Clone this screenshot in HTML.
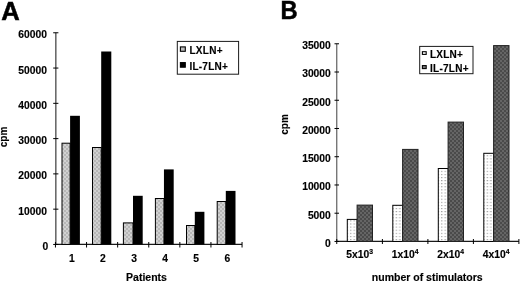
<!DOCTYPE html>
<html><head><meta charset="utf-8"><title>Figure</title>
<style>
html,body{margin:0;padding:0;background:#fff;}
body{width:520px;height:282px;overflow:hidden;font-family:"Liberation Sans",sans-serif;}
svg{display:block;filter:grayscale(1) blur(0.35px);}
svg text{stroke:#000;stroke-width:0.15px;}
</style></head><body>
<svg width="520" height="282" viewBox="0 0 520 282">
<defs>
<pattern id="pg" width="4" height="4" patternUnits="userSpaceOnUse">
<rect width="4" height="4" fill="#b6b6b6"/>
<rect x="0" y="0" width="2" height="2" fill="#cfcfcf"/>
<rect x="2" y="2" width="2" height="2" fill="#cfcfcf"/>
<rect x="0.5" y="0.5" width="1" height="1" fill="#d8d8d8"/>
<rect x="2.5" y="2.5" width="1" height="1" fill="#d8d8d8"/>
</pattern>
<pattern id="pw0" x="350.2" y="0.3" width="7" height="3.1" patternUnits="userSpaceOnUse"><rect width="7" height="3.1" fill="#fff"/><rect x="0" y="0" width="1.2" height="1" fill="#8a8a8a"/><rect x="3.5" y="0" width="1.2" height="1" fill="#8a8a8a"/></pattern>
<pattern id="pw1" x="395.7" y="0.3" width="7" height="3.1" patternUnits="userSpaceOnUse"><rect width="7" height="3.1" fill="#fff"/><rect x="0" y="0" width="1.2" height="1" fill="#8a8a8a"/><rect x="3.5" y="0" width="1.2" height="1" fill="#8a8a8a"/></pattern>
<pattern id="pw2" x="441.2" y="0.3" width="7" height="3.1" patternUnits="userSpaceOnUse"><rect width="7" height="3.1" fill="#fff"/><rect x="0" y="0" width="1.2" height="1" fill="#8a8a8a"/><rect x="3.5" y="0" width="1.2" height="1" fill="#8a8a8a"/></pattern>
<pattern id="pw3" x="486.7" y="0.3" width="7" height="3.1" patternUnits="userSpaceOnUse"><rect width="7" height="3.1" fill="#fff"/><rect x="0" y="0" width="1.2" height="1" fill="#8a8a8a"/><rect x="3.5" y="0" width="1.2" height="1" fill="#8a8a8a"/></pattern>
<pattern id="pd" width="4" height="4" patternUnits="userSpaceOnUse">
<rect width="4" height="4" fill="#4a4a4a"/>
<rect x="0" y="0" width="2" height="2" fill="#626262"/>
<rect x="2" y="2" width="2" height="2" fill="#626262"/>
<rect x="0.5" y="0.5" width="1" height="1" fill="#6c6c6c"/>
<rect x="2.5" y="2.5" width="1" height="1" fill="#6c6c6c"/>
</pattern>
</defs>
<rect width="520" height="282" fill="#fff"/>
<text x="1.3" y="19.5" font-family="Liberation Sans, sans-serif" font-weight="bold" font-size="25.6" style="stroke-width:0.5px">A</text>
<text transform="translate(280.6,18.9) scale(0.95,1)" font-family="Liberation Sans, sans-serif" font-weight="bold" font-size="25" style="stroke-width:0.5px">B</text>
<g stroke="#000" stroke-width="1" fill="none">
<line x1="55.85" y1="32.77" x2="55.85" y2="244.45" stroke="#3a3a3a" stroke-width="1.2"/>
<line x1="55.85" y1="244.45" x2="242.05" y2="244.45" stroke="#1a1a1a" stroke-width="1.2"/>
<line x1="53.2" y1="244.45" x2="58.4" y2="244.45"/>
<line x1="53.2" y1="209.17" x2="58.4" y2="209.17"/>
<line x1="53.2" y1="173.89" x2="58.4" y2="173.89"/>
<line x1="53.2" y1="138.61" x2="58.4" y2="138.61"/>
<line x1="53.2" y1="103.33" x2="58.4" y2="103.33"/>
<line x1="53.2" y1="68.05" x2="58.4" y2="68.05"/>
<line x1="53.2" y1="32.77" x2="58.4" y2="32.77"/>
<line x1="55.45" y1="242" x2="55.45" y2="247.5"/>
<line x1="86.55" y1="242" x2="86.55" y2="247.5"/>
<line x1="117.65" y1="242" x2="117.65" y2="247.5"/>
<line x1="148.75" y1="242" x2="148.75" y2="247.5"/>
<line x1="179.85" y1="242" x2="179.85" y2="247.5"/>
<line x1="210.95" y1="242" x2="210.95" y2="247.5"/>
<line x1="242.05" y1="242" x2="242.05" y2="247.5"/>
</g>
<text x="48.3" y="250.05" font-family="Liberation Sans, sans-serif" font-weight="bold" font-size="10.3" text-anchor="end">0</text>
<text x="47.0" y="214.77" font-family="Liberation Sans, sans-serif" font-weight="bold" font-size="10.3" text-anchor="end">10000</text>
<text x="47.0" y="179.49" font-family="Liberation Sans, sans-serif" font-weight="bold" font-size="10.3" text-anchor="end">20000</text>
<text x="47.0" y="144.21" font-family="Liberation Sans, sans-serif" font-weight="bold" font-size="10.3" text-anchor="end">30000</text>
<text x="47.0" y="108.93" font-family="Liberation Sans, sans-serif" font-weight="bold" font-size="10.3" text-anchor="end">40000</text>
<text x="47.0" y="73.65" font-family="Liberation Sans, sans-serif" font-weight="bold" font-size="10.3" text-anchor="end">50000</text>
<text x="47.0" y="38.37" font-family="Liberation Sans, sans-serif" font-weight="bold" font-size="10.3" text-anchor="end">60000</text>
<rect x="62" y="143.2" width="8.1" height="101.25" fill="url(#pg)" stroke="#000" stroke-width="1"/>
<rect x="70.1" y="115.8" width="9.8" height="128.65" fill="#000"/>
<text x="71.8" y="261.9" font-family="Liberation Sans, sans-serif" font-weight="bold" font-size="10.3" text-anchor="middle">1</text>
<rect x="92.5" y="147.5" width="8.7" height="96.95" fill="url(#pg)" stroke="#000" stroke-width="1"/>
<rect x="101.2" y="51.5" width="10.1" height="192.95" fill="#000"/>
<text x="102.9" y="261.9" font-family="Liberation Sans, sans-serif" font-weight="bold" font-size="10.3" text-anchor="middle">2</text>
<rect x="123.4" y="222.9" width="9.6" height="21.55" fill="url(#pg)" stroke="#000" stroke-width="1"/>
<rect x="133" y="195.8" width="9.7" height="48.65" fill="#000"/>
<text x="134" y="261.9" font-family="Liberation Sans, sans-serif" font-weight="bold" font-size="10.3" text-anchor="middle">3</text>
<rect x="155.4" y="198.5" width="8.55" height="45.95" fill="url(#pg)" stroke="#000" stroke-width="1"/>
<rect x="163.95" y="169.4" width="9.75" height="75.05" fill="#000"/>
<text x="165.1" y="261.9" font-family="Liberation Sans, sans-serif" font-weight="bold" font-size="10.3" text-anchor="middle">4</text>
<rect x="186.5" y="225.5" width="8.3" height="18.95" fill="url(#pg)" stroke="#000" stroke-width="1"/>
<rect x="194.8" y="211.8" width="9.6" height="32.65" fill="#000"/>
<text x="196.2" y="261.9" font-family="Liberation Sans, sans-serif" font-weight="bold" font-size="10.3" text-anchor="middle">5</text>
<rect x="217.2" y="201.5" width="8.6" height="42.95" fill="url(#pg)" stroke="#000" stroke-width="1"/>
<rect x="225.8" y="190.9" width="9.7" height="53.55" fill="#000"/>
<text x="227.3" y="261.9" font-family="Liberation Sans, sans-serif" font-weight="bold" font-size="10.3" text-anchor="middle">6</text>
<text x="146.5" y="280.7" font-family="Liberation Sans, sans-serif" font-weight="bold" font-size="10.5" text-anchor="middle">Patients</text>
<text transform="translate(6.6,137) rotate(-90)" font-family="Liberation Sans, sans-serif" font-weight="bold" font-size="10" text-anchor="middle">cpm</text>
<rect x="177.3" y="41.4" width="61.3" height="32.8" fill="#fff" stroke="#1a1a1a" stroke-width="1"/>
<rect x="180.4" y="46.9" width="4.9" height="4.4" fill="#bbb" stroke="#000" stroke-width="1.1"/>
<rect x="180.4" y="62.6" width="4.9" height="4.6" fill="#000" stroke="#000" stroke-width="1.1"/>
<text x="189.4" y="54.0" font-family="Liberation Sans, sans-serif" font-weight="bold" font-size="10" letter-spacing="0.3">LXLN+</text>
<text x="189.4" y="69.9" font-family="Liberation Sans, sans-serif" font-weight="bold" font-size="10" letter-spacing="0.25">IL-7LN+</text>
<g stroke="#000" stroke-width="1" fill="none">
<line x1="336.75" y1="43.77" x2="336.75" y2="241.45" stroke="#606060" stroke-width="1.2"/>
<line x1="336.75" y1="241.45" x2="518.9" y2="241.45" stroke="#1a1a1a" stroke-width="1.2"/>
<line x1="334.5" y1="241.45" x2="339" y2="241.45"/>
<line x1="334.5" y1="213.21" x2="339" y2="213.21"/>
<line x1="334.5" y1="184.97" x2="339" y2="184.97"/>
<line x1="334.5" y1="156.73" x2="339" y2="156.73"/>
<line x1="334.5" y1="128.49" x2="339" y2="128.49"/>
<line x1="334.5" y1="100.25" x2="339" y2="100.25"/>
<line x1="334.5" y1="72.01" x2="339" y2="72.01"/>
<line x1="334.5" y1="43.77" x2="339" y2="43.77"/>
<line x1="336.75" y1="239" x2="336.75" y2="244"/>
<line x1="382.4" y1="239" x2="382.4" y2="244"/>
<line x1="427.9" y1="239" x2="427.9" y2="244"/>
<line x1="473.4" y1="239" x2="473.4" y2="244"/>
<line x1="518.9" y1="239" x2="518.9" y2="244"/>
</g>
<text x="330.8" y="246.75" font-family="Liberation Sans, sans-serif" font-weight="bold" font-size="10.3" text-anchor="end">0</text>
<text x="330.8" y="218.51" font-family="Liberation Sans, sans-serif" font-weight="bold" font-size="10.3" text-anchor="end">5000</text>
<text x="330.8" y="190.27" font-family="Liberation Sans, sans-serif" font-weight="bold" font-size="10.3" text-anchor="end">10000</text>
<text x="330.8" y="162.03" font-family="Liberation Sans, sans-serif" font-weight="bold" font-size="10.3" text-anchor="end">15000</text>
<text x="330.8" y="133.79" font-family="Liberation Sans, sans-serif" font-weight="bold" font-size="10.3" text-anchor="end">20000</text>
<text x="330.8" y="105.55" font-family="Liberation Sans, sans-serif" font-weight="bold" font-size="10.3" text-anchor="end">25000</text>
<text x="330.8" y="77.31" font-family="Liberation Sans, sans-serif" font-weight="bold" font-size="10.3" text-anchor="end">30000</text>
<text x="330.8" y="49.07" font-family="Liberation Sans, sans-serif" font-weight="bold" font-size="10.3" text-anchor="end">35000</text>
<rect x="347.3" y="219.4" width="9.8" height="22.05" fill="url(#pw0)" stroke="#000" stroke-width="1"/>
<rect x="357.1" y="205.1" width="15.4" height="36.35" fill="url(#pd)" stroke="#222" stroke-width="1"/>
<text x="359.65" y="257.5" font-family="Liberation Sans, sans-serif" font-weight="bold" font-size="10.3" text-anchor="middle">5x10<tspan font-size="6.8" dy="-3.6">3</tspan></text>
<rect x="392.8" y="205.3" width="9.8" height="36.15" fill="url(#pw1)" stroke="#000" stroke-width="1"/>
<rect x="402.6" y="149.4" width="15.4" height="92.05" fill="url(#pd)" stroke="#222" stroke-width="1"/>
<text x="405.15" y="257.5" font-family="Liberation Sans, sans-serif" font-weight="bold" font-size="10.3" text-anchor="middle">1x10<tspan font-size="6.8" dy="-3.6">4</tspan></text>
<rect x="438.3" y="168.5" width="9.8" height="72.95" fill="url(#pw2)" stroke="#000" stroke-width="1"/>
<rect x="448.1" y="122.1" width="15.4" height="119.35" fill="url(#pd)" stroke="#222" stroke-width="1"/>
<text x="450.65" y="257.5" font-family="Liberation Sans, sans-serif" font-weight="bold" font-size="10.3" text-anchor="middle">2x10<tspan font-size="6.8" dy="-3.6">4</tspan></text>
<rect x="483.8" y="153.3" width="9.8" height="88.15" fill="url(#pw3)" stroke="#000" stroke-width="1"/>
<rect x="493.6" y="45.6" width="15.4" height="195.85" fill="url(#pd)" stroke="#222" stroke-width="1"/>
<text x="496.15" y="257.5" font-family="Liberation Sans, sans-serif" font-weight="bold" font-size="10.3" text-anchor="middle">4x10<tspan font-size="6.8" dy="-3.6">4</tspan></text>
<text x="427.3" y="280.9" font-family="Liberation Sans, sans-serif" font-weight="bold" font-size="10.5" text-anchor="middle">number of stimulators</text>
<text transform="translate(287.6,124.5) rotate(-90)" font-family="Liberation Sans, sans-serif" font-weight="bold" font-size="10" text-anchor="middle">cpm</text>
<rect x="419.7" y="46.4" width="53.3" height="27.3" fill="#fff" stroke="#1a1a1a" stroke-width="1"/>
<rect x="422.4" y="51.7" width="3.8" height="2.7" fill="#fff" stroke="#000" stroke-width="1.1"/>
<rect x="422.4" y="65.6" width="3.8" height="3" fill="#777" stroke="#000" stroke-width="1.1"/>
<text x="429.9" y="58.0" font-family="Liberation Sans, sans-serif" font-weight="bold" font-size="10" letter-spacing="0.25">LXLN+</text>
<text x="429.9" y="71.8" font-family="Liberation Sans, sans-serif" font-weight="bold" font-size="10" letter-spacing="0.3">IL-7LN+</text>
</svg>
</body></html>
